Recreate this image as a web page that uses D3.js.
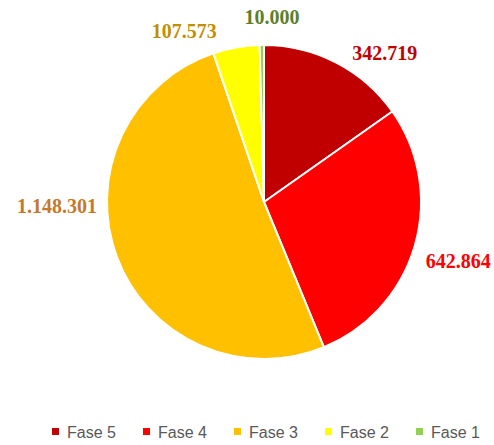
<!DOCTYPE html>
<html>
<head>
<meta charset="utf-8">
<script src="https://cdn.jsdelivr.net/npm/d3@7"></script>
<style>
  body { margin: 0; background: #fff; }
</style>
</head>
<body>
<div id="chart"></div>
<script>
// values per phase, clockwise from 12 o'clock
let phases = ['Fase 5', 'Fase 4', 'Fase 3', 'Fase 2', 'Fase 1']
let values = [342719, 642864, 1148301, 107573, 10000]
let labels = ['342.719', '642.864', '1.148.301', '107.573', '10.000']
let fills = ['#C00000', '#FF0000', '#FFC000', '#FFFF00', '#92D050']
let labelColors = ['#C00000', '#FF0000', '#C47A2C', '#BF9000', '#5B7F2A']

// label placement (degrees clockwise from top, distance from centre)
let labelAngles = [39, 107, 269, 335, 2.5]
let labelDist = [192, 203, 207, 189, 185]

const W = 494
const H = 445
const cx = 264
const cy = 202
const r = 157

function main () {
  let svg = d3.select('#chart').append('svg')
    .attr('width', W)
    .attr('height', H)

  let data = phases.map((p, i) => ({ name: p, value: values[i], i: i }))

  let pie = d3.pie().sort(null).value((d) => d.value)
  let arc = d3.arc().innerRadius(0).outerRadius(r)
  let color = d3.scaleOrdinal().domain(phases).range(fills)

  let g = svg.append('g').attr('transform', `translate(${cx},${cy})`)

  g.selectAll('path')
    .data(pie(data))
    .enter().append('path')
      .attr('d', arc)
      .attr('fill', (d) => color(d.data.name))
      .attr('stroke', '#fff')
      .attr('stroke-width', 2)
      .attr('stroke-linejoin', 'round')

  g.selectAll('text.lbl')
    .data(data)
    .enter().append('text')
      .attr('class', 'lbl')
      .attr('x', (d) => labelDist[d.i] * Math.sin(labelAngles[d.i] * Math.PI / 180))
      .attr('y', (d) => -labelDist[d.i] * Math.cos(labelAngles[d.i] * Math.PI / 180))
      .attr('dy', '0.35em')
      .attr('text-anchor', 'middle')
      .attr('font-family', '"Liberation Serif", "Times New Roman", serif')
      .attr('font-weight', 'bold')
      .attr('font-size', 20)
      .attr('fill', (d) => labelColors[d.i])
      .text((d) => labels[d.i])

  // legend
  let legend = svg.append('g').attr('transform', 'translate(0,432)')
  let lx = d3.scalePoint().domain(phases).range([52, 416])

  let item = legend.selectAll('g')
    .data(phases)
    .enter().append('g')
      .attr('transform', (d) => `translate(${lx(d)},0)`)

  item.append('rect')
    .attr('x', 0)
    .attr('y', -4)
    .attr('width', 7)
    .attr('height', 7)
    .attr('fill', (d) => color(d))

  item.append('text')
    .attr('x', 15)
    .attr('y', 0)
    .attr('dy', '0.35em')
    .attr('font-family', '"Liberation Sans", Arial, sans-serif')
    .attr('font-size', 16)
    .attr('fill', '#595959')
    .text((d) => d)
}

main()
</script>
</body>
</html>
